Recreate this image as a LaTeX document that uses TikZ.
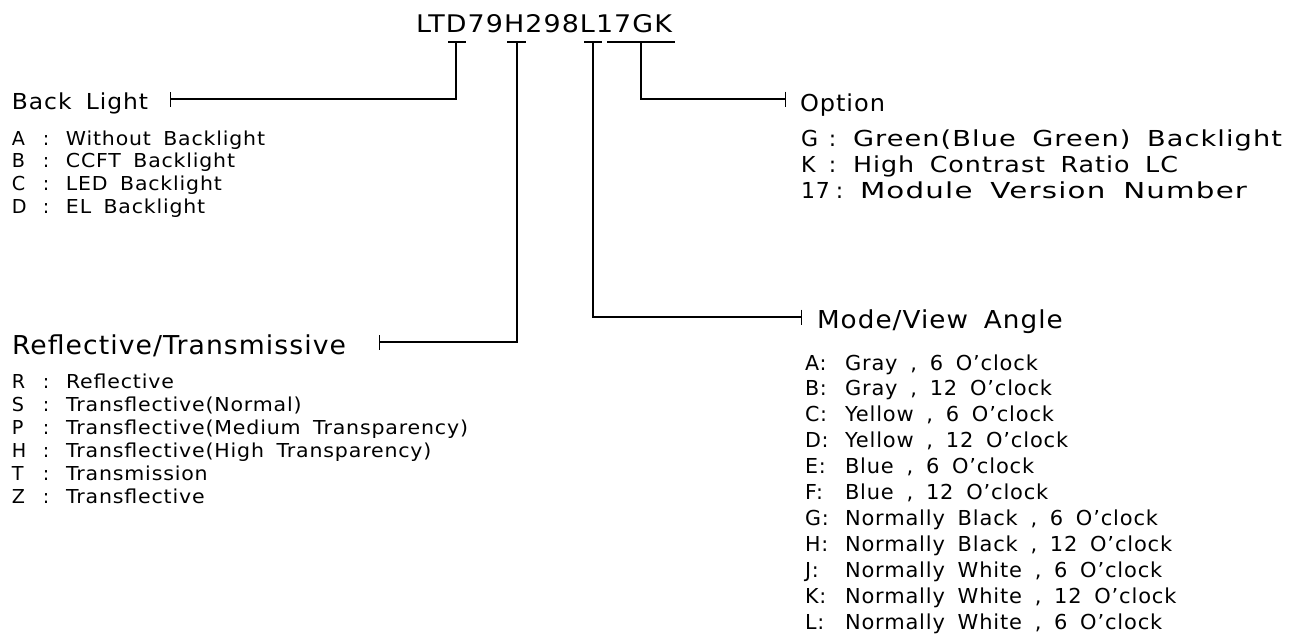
\documentclass[tikz,border=0pt]{standalone}
\usepackage{fontspec}
\usetikzlibrary{arrows.meta}
\newfontfamily\cadfont{DejaVu Sans}[WordSpace=1.7, LetterSpace=4]
\newcommand\cadset[1]{\cadfont\fontsize{#1}{#1}\selectfont}
\newlength\calw
% font of each block
\newcommand\fBLh{\cadset{22}}
\newcommand\fBL{\cadset{19.2}}
\newcommand\fRTh{\cadset{26}}
\newcommand\fRT{\cadset{19.2}}
\newcommand\fOPh{\cadset{23.3}}
\newcommand\fOP{\cadset{22}}
\newcommand\fMVh{\cadset{24.7}}
\newcommand\fMV{\cadset{20.6}}
% calibrate horizontal factor: #1 macro, #2 target width, #3 font, #4 text
\newcommand\calib[4]{\settowidth\calw{#3#4}\pgfmathsetmacro#1{#2/\calw}}
\begin{document}
\calib{\kBLh}{136}{\fBLh}{Back Light}
\calib{\kBL}{199}{\fBL}{Without Backlight}
\calib{\kRTh}{334}{\fRTh}{Reflective/Transmissive}
\calib{\kRT}{402}{\fRT}{Transflective(Medium Transparency)}
\calib{\kOPh}{85}{\fOPh}{Option}
\calib{\kOPg}{429}{\fOP}{Green(Blue Green) Backlight}
\calib{\kOPk}{325}{\fOP}{High Contrast Ratio LC}
\calib{\kOPs}{387}{\fOP}{Module Version Number}
\calib{\kMVh}{151}{\fMVh}{Mode/View}
\calib{\kMV}{313}{\fMV}{Normally Black , 6 O’clock}
\begin{tikzpicture}[x=1pt,y=-1pt,
  txt/.style={anchor=base west, inner sep=0pt, outer sep=0pt},
  conn/.style={line width=1.3pt},
  tickend/.style={-{Bar[width=15pt,line width=1.3pt]}},
  uline/.style={line width=1.5pt}]
\useasboundingbox (0,0) rectangle (1289,634);

% part number
\node[txt, font=\cadset{25}] (code) at (416,33) {\resizebox{256pt}{18pt}{LTD79H298L17GK}};

% underlines
\coordinate (uDa) at (448,42); \coordinate (uDb) at (466,42); \coordinate (uD) at (456,42);
\coordinate (uHa) at (507,42); \coordinate (uHb) at (526,42); \coordinate (uH) at (517,42);
\coordinate (uLa) at (584,42); \coordinate (uLb) at (602,42); \coordinate (uL) at (593,42);
\coordinate (uOa) at (607,42); \coordinate (uOb) at (675,42); \coordinate (uO) at (641,42);
\draw[uline] (uDa) -- (uDb);
\draw[uline] (uHa) -- (uHb);
\draw[uline] (uLa) -- (uLb);
\draw[uline] (uOa) -- (uOb);

% connector ends
\coordinate (tBL) at (170,99);
\coordinate (tRT) at (379,342);
\coordinate (tMV) at (802,317);
\coordinate (tOP) at (786,99);

\draw[conn, tickend] (uD) |- (tBL);
\draw[conn, tickend] (uH) |- (tRT);
\draw[conn, tickend] (uL) |- (tMV);
\draw[conn, tickend] (uO) |- (tOP);

% Back Light
\node[txt] (blh) at (12,109) {\scalebox{\kBLh}[1]{\fBLh Back Light}};
\foreach \k/\t [count=\i from 0] in {A/Without Backlight, B/CCFT Backlight, C/LED Backlight, D/EL Backlight}
  \node[txt] (bl\k) at (12,{145+22.7*\i}) {\fBL\makebox[54pt][l]{\makebox[31pt][l]{\k}:}\scalebox{\kBL}[1]{\fBL\t}};

% Reflective / Transmissive
\node[txt] (rth) at (12,354) {\scalebox{\kRTh}[1]{\fRTh Reflective/Transmissive}};
\foreach \k/\t [count=\i from 0] in {R/Reflective, S/Transflective(Normal), P/Transflective(Medium Transparency), H/Transflective(High Transparency), T/Transmission, Z/Transflective}
  \node[txt] (rt\k) at (12,{388.5+23*\i}) {\fRT\makebox[54pt][l]{\makebox[31pt][l]{\k}:}\scalebox{\kRT}[1]{\fRT\t}};

% Option
\node[txt] (oph) at (800,111) {\scalebox{\kOPh}[1]{\fOPh Option}};
\node[txt] (opG) at (801,146) {\fOP\makebox[52pt][l]{\makebox[28pt][l]{G}:}\scalebox{\kOPg}[1]{\fOP Green(Blue Green) Backlight}};
\node[txt] (opK) at (801,172) {\fOP\makebox[52pt][l]{\makebox[28pt][l]{K}:}\scalebox{\kOPk}[1]{\fOP High Contrast Ratio LC}};
\node[txt] (op17) at (801,198) {\fOP\makebox[59pt][l]{\makebox[35pt][l]{17}:}\scalebox{\kOPs}[1]{\fOP Module Version Number}};

% Mode / View Angle
\node[txt] (mvh) at (817,328) {\scalebox{\kMVh}[1]{\fMVh Mode/View Angle}};
\foreach \k/\t [count=\i from 0] in {A/{Gray , 6 O’clock}, B/{Gray , 12 O’clock}, C/{Yellow , 6 O’clock}, D/{Yellow , 12 O’clock}, E/{Blue , 6 O’clock}, F/{Blue , 12 O’clock}, G/{Normally Black , 6 O’clock}, H/{Normally Black , 12 O’clock}, J/{Normally White , 6 O’clock}, K/{Normally White , 12 O’clock}, L/{Normally White , 6 O’clock}}
  \node[txt] (mv\k) at (805,{370+25.9*\i}) {\fMV\makebox[40pt][l]{\k:}\scalebox{\kMV}[1]{\fMV\t}};
\end{tikzpicture}
\end{document}
